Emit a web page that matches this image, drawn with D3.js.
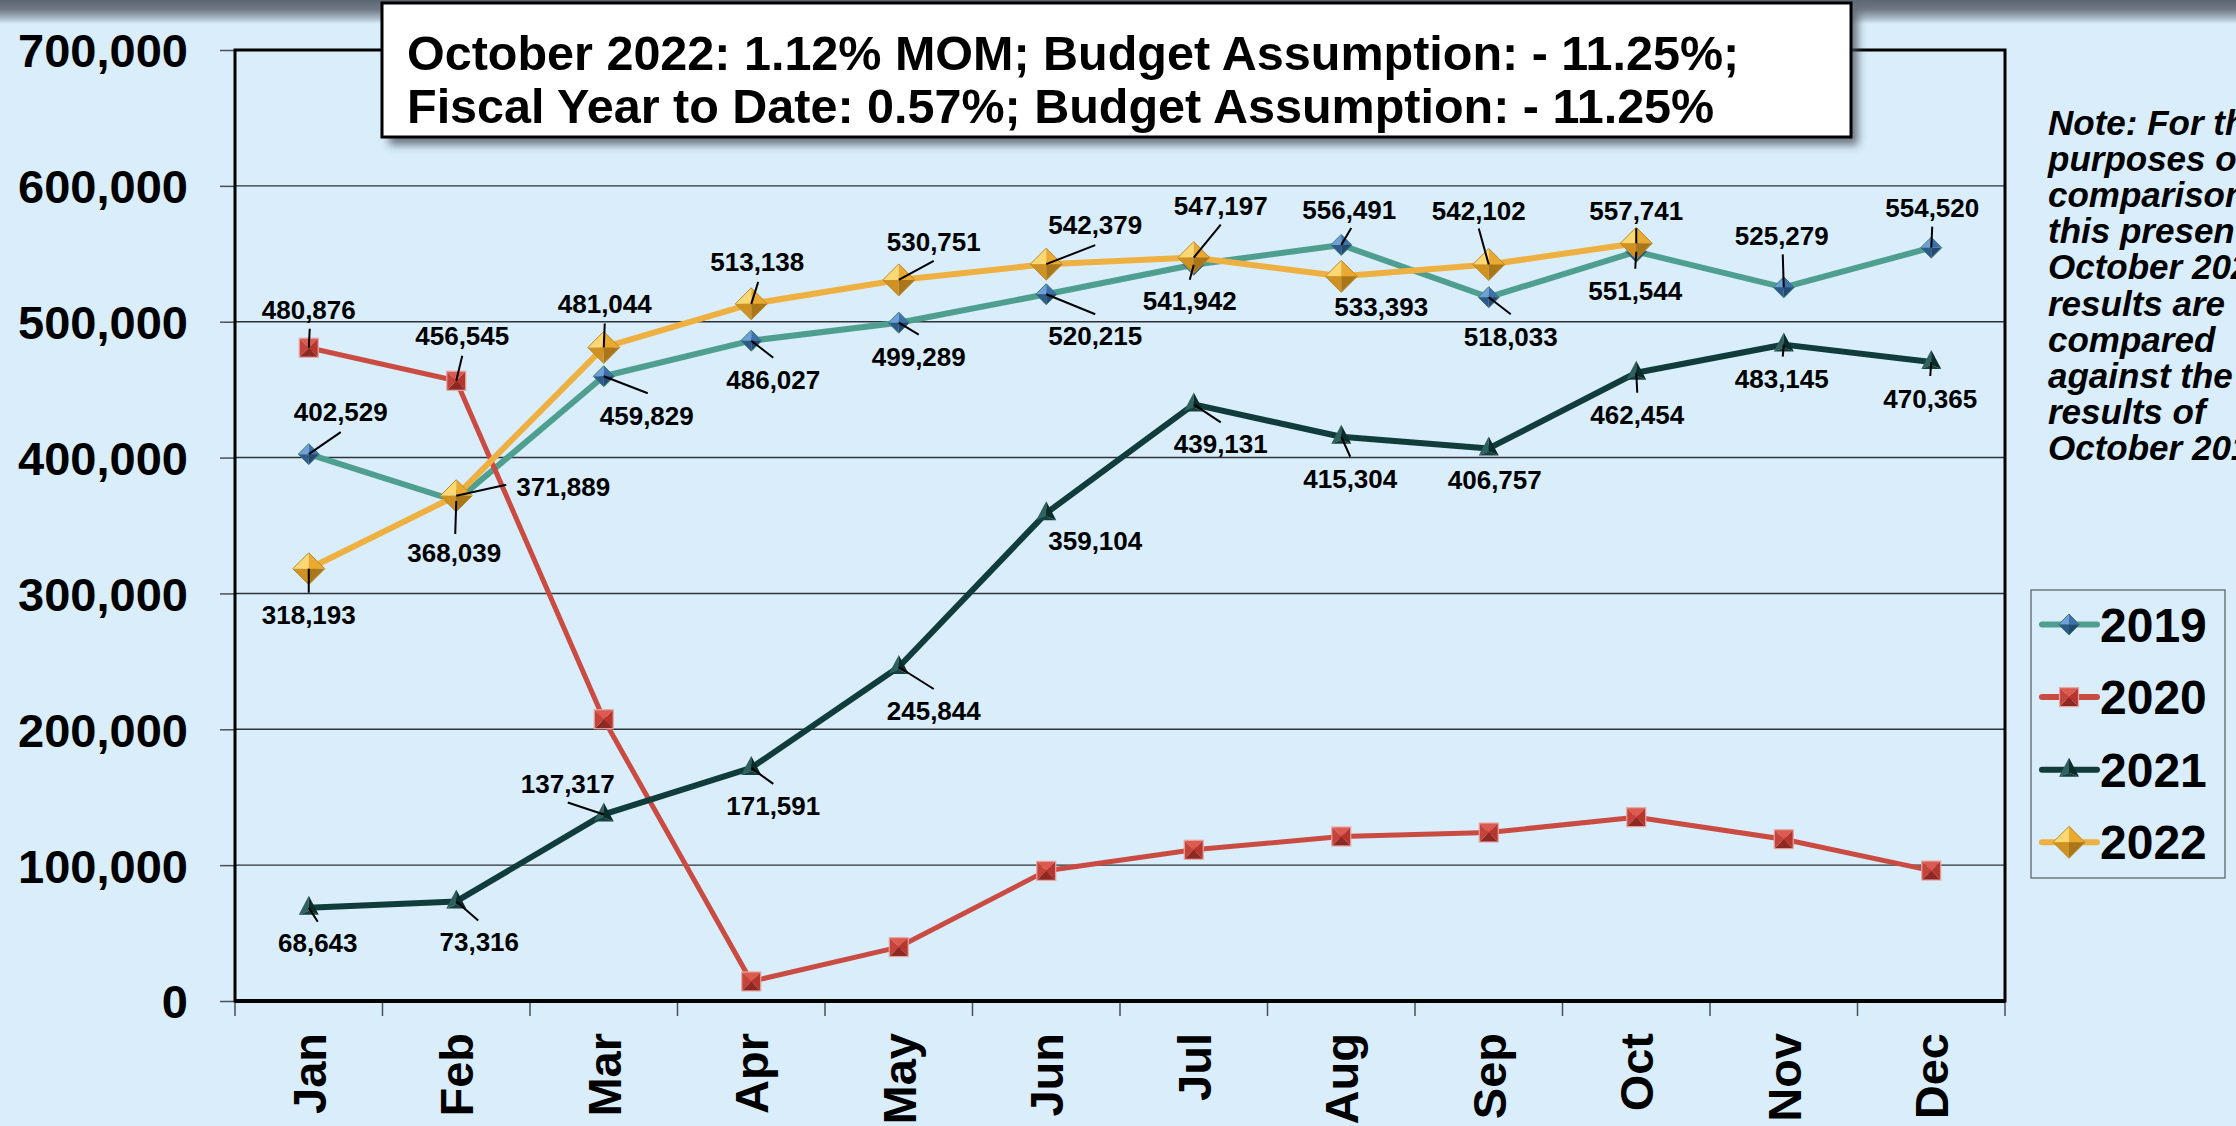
<!DOCTYPE html>
<html>
<head>
<meta charset="utf-8">
<script src="https://cdn.jsdelivr.net/npm/d3@7"></script>
<style>
  html, body { margin: 0; padding: 0; background: #d9edfb; overflow: hidden; }
  svg { display: block; }
  text { font-family: "Liberation Sans", Arial, Helvetica, sans-serif; }
</style>
</head>
<body>
<svg id="chart" width="2236" height="1126"></svg>
<script>
// ---------------- DATA ----------------
const months = ["Jan","Feb","Mar","Apr","May","Jun","Jul","Aug","Sep","Oct","Nov","Dec"];
const years = ["2019","2020","2021","2022"];
const values2019 = [402529, 368039, 459829, 486027, 499289, 520215, 541942, 556491, 518033, 551544, 525279, 554520];
const values2020 = [480876, 456545, 207400, 14400, 39700, 95800, 111300, 121100, 124000, 135300, 119100, 96000];
const values2021 = [68643, 73316, 137317, 171591, 245844, 359104, 439131, 415304, 406757, 462454, 483145, 470365];
const values2022 = [318193, 371889, 481044, 513138, 530751, 542379, 547197, 533393, 542102, 557741];
// which points carry a printed data label
const labeled2019 = [true,true,true,true,true,true,true,true,true,true,true,true];
const labeled2020 = [true,true,false,false,false,false,false,false,false,false,false,false];
const labeled2021 = [true,true,true,true,true,true,true,true,true,true,true,true];
const labeled2022 = [true,true,true,true,true,true,true,true,true,true];
const yTicks = [0, 100000, 200000, 300000, 400000, 500000, 600000, 700000];
const titleLines = [
  "October 2022: 1.12% MOM; Budget Assumption: - 11.25%;",
  "Fiscal Year to Date: 0.57%; Budget Assumption: - 11.25%"
];
const noteLines = ["Note: For the", "purposes of", "comparison,", "this presentation",
  "October 2022", "results are", "compared", "against the", "results of", "October 2019."];

// ---------------- STYLE / LAYOUT ----------------
const W = 2236, H = 1126;
const plot = { left: 235, right: 2005, top: 50, bottom: 1001 };
const lineColors = { "2019": "#4f9f90", "2020": "#c94b42", "2021": "#103c3b", "2022": "#efb042" };
const markerKinds = { "2019": "diamondS", "2020": "square", "2021": "triangle", "2022": "diamondL" };
// label layout: [text dx, text dy (middle), leader end dx, leader end dy] relative to the point
const labelOffsets = {
  "2019": [[32,-42,32,-22],[-2,52,-1,33],[43,39,44,17],[22,39,22,17],[20,34,20,12],[49,41,49,20],
           [-4,36,-4,15],[8,-35,10,-17],[22,39,22,17],[-1,39,-1,17],[-2,-52,-1,-33],[1,-40,1,-21]],
  "2020": [[0,-38,1,-19],[6,-45,6,-25]],
  "2021": [[9,35,9,14],[23,40,22,19],[-36,-31,-36,-12],[22,38,22,16],[35,44,35,22],[49,28,null,null],
           [27,39,27,18],[9,42,9,20],[6,31,null,null],[1,42,1,20],[-2,34,-1,12],[-1,37,-1,14]],
  "2022": [[0,46,0,24],[107,-9,50,-11],[1,-44,1,-24],[6,-42,7,-22],[35,-38,35,-19],[49,-39,49,-19],
           [27,-52,27,-33],[40,30,null,null],[-10,-54,-10,-36],[0,-33,0,-15]]
};

const seriesValues = { "2019": values2019, "2020": values2020, "2021": values2021, "2022": values2022 };
const seriesLabeled = { "2019": labeled2019, "2020": labeled2020, "2021": labeled2021, "2022": labeled2022 };

const svg = d3.select("#chart");
const defs = svg.append("defs");

// background
svg.append("rect").attr("width", W).attr("height", H).attr("fill", "#d9edfb");
const topGrad = defs.append("linearGradient").attr("id", "topband").attr("x1", 0).attr("y1", 0).attr("x2", 0).attr("y2", 1);
topGrad.append("stop").attr("offset", "0%").attr("stop-color", "#5b6672");
topGrad.append("stop").attr("offset", "40%").attr("stop-color", "#6f7a86");
topGrad.append("stop").attr("offset", "75%").attr("stop-color", "#a8b7c4");
topGrad.append("stop").attr("offset", "100%").attr("stop-color", "#d9edfb");
svg.append("rect").attr("x", 0).attr("y", 0).attr("width", W).attr("height", 24).attr("fill", "url(#topband)");

const blur = defs.append("filter").attr("id", "shadow").attr("x", "-5%").attr("y", "-20%").attr("width", "110%").attr("height", "140%");
blur.append("feGaussianBlur").attr("stdDeviation", 4);

// ---------------- SCALES ----------------
const x = d3.scaleBand().domain(months).range([plot.left, plot.right]);
const cx = m => x(m) + x.bandwidth() / 2;
const y = d3.scaleLinear().domain([0, 700000]).range([plot.bottom, plot.top]);

// gridlines
svg.append("g").selectAll("line")
  .data(yTicks.filter(v => v > 0 && v < 700000))
  .join("line")
  .attr("x1", plot.left).attr("x2", plot.right)
  .attr("y1", d => y(d)).attr("y2", d => y(d))
  .attr("stroke", "#2c3238").attr("stroke-width", 1.4);

// y axis
const yAxis = svg.append("g").attr("transform", `translate(${plot.left},0)`)
  .call(d3.axisLeft(y).tickValues(yTicks).tickSize(15).tickPadding(32).tickFormat(d3.format(",")));
yAxis.select(".domain").remove();
yAxis.selectAll(".tick line").attr("stroke", "#4a4f55").attr("stroke-width", 1.5);
yAxis.selectAll(".tick text").attr("font-size", 47).attr("font-weight", "bold").attr("fill", "#000").attr("dy", "0.36em");

// x axis (labels at centres, ticks at band boundaries)
const xAxis = svg.append("g").attr("transform", `translate(0,${plot.bottom})`)
  .call(d3.axisBottom(x).tickSize(0));
xAxis.select(".domain").remove();
xAxis.selectAll(".tick text")
  .attr("transform", "rotate(-90)")
  .attr("x", -32).attr("y", 0).attr("dy", "0.36em")
  .attr("text-anchor", "end")
  .attr("font-size", 47).attr("font-weight", "bold").attr("fill", "#000");
const bounds = months.map(m => x(m)).concat([x.range()[1]]);
svg.append("g").selectAll("line").data(bounds).join("line")
  .attr("x1", d => d).attr("x2", d => d)
  .attr("y1", plot.bottom).attr("y2", plot.bottom + 15)
  .attr("stroke", "#4a4f55").attr("stroke-width", 1.5);

// plot frame
svg.append("rect").attr("x", plot.left).attr("y", plot.top)
  .attr("width", plot.right - plot.left).attr("height", plot.bottom - plot.top)
  .attr("fill", "none").attr("stroke", "#000").attr("stroke-width", 3);
svg.append("line").attr("x1", plot.left).attr("x2", plot.right).attr("y1", plot.bottom).attr("y2", plot.bottom)
  .attr("stroke", "#000").attr("stroke-width", 4);

// ---------------- MARKERS ----------------
function drawMarker(g, kind) {
  if (kind === "diamondS" || kind === "diamondL") {
    const r = kind === "diamondS" ? 10.5 : 16;
    const cols = kind === "diamondS"
      ? ["#6e9fd6", "#3f70ad", "#2e5a8a", "#244a72"]
      : ["#fbd873", "#eaaa2f", "#cf9222", "#a9761a"];
    const facets = [
      `M0,${-r}L${-r},0L0,0Z`, `M0,${-r}L${r},0L0,0Z`,
      `M${-r},0L0,${r}L0,0Z`, `M${r},0L0,${r}L0,0Z`];
    facets.forEach((p, i) => g.append("path").attr("d", p).attr("fill", cols[i]));
    g.append("path").attr("d", `M0,${-r}L${r},0L0,${r}L${-r},0Z`).attr("fill", "none")
      .attr("stroke", kind === "diamondS" ? "#3d7d78" : "#b98a2a").attr("stroke-width", 1);
  } else if (kind === "square") {
    const s = 9.5;
    const cols = ["#dc5a4f", "#b5362f", "#8e2823", "#c4433b"];
    const facets = [
      `M${-s},${-s}L${s},${-s}L0,0Z`, `M${s},${-s}L${s},${s}L0,0Z`,
      `M${s},${s}L${-s},${s}L0,0Z`, `M${-s},${s}L${-s},${-s}L0,0Z`];
    facets.forEach((p, i) => g.append("path").attr("d", p).attr("fill", cols[i]));
    g.append("rect").attr("x", -s).attr("y", -s).attr("width", 2 * s).attr("height", 2 * s)
      .attr("fill", "none").attr("stroke", "#e9a7a3").attr("stroke-width", 1.2);
  } else if (kind === "triangle") {
    const facets = [["M0,-12L-10,7L0,3Z", "#2f625f"], ["M0,-12L10,7L0,3Z", "#0b2c2b"], ["M-10,7L10,7L0,3Z", "#14403e"]];
    facets.forEach(f => g.append("path").attr("d", f[0]).attr("fill", f[1]));
  }
}

// ---------------- LINES ----------------
const line = d3.line().x(d => cx(d.m)).y(d => y(d.v));
years.forEach(yr => {
  const pts = seriesValues[yr].map((v, i) => ({ m: months[i], v }));
  svg.append("path").datum(pts).attr("d", line)
    .attr("fill", "none").attr("stroke", lineColors[yr])
    .attr("stroke-width", yr === "2020" ? 5 : 6).attr("stroke-linejoin", "round");
});
years.forEach(yr => {
  const pts = seriesValues[yr].map((v, i) => ({ m: months[i], v }));
  svg.append("g").selectAll("g").data(pts).join("g")
    .attr("transform", d => `translate(${cx(d.m)},${y(d.v)})`)
    .each(function () { drawMarker(d3.select(this), markerKinds[yr]); });
});

// ---------------- DATA LABELS ----------------
const fmt = d3.format(",");
const labelG = svg.append("g");
years.forEach(yr => {
  seriesValues[yr].forEach((v, i) => {
    if (!seriesLabeled[yr][i]) return;
    const off = labelOffsets[yr][i];
    const px = cx(months[i]), py = y(v);
    if (off[2] !== null) {
      labelG.append("line").attr("x1", px).attr("y1", py)
        .attr("x2", px + off[2]).attr("y2", py + off[3])
        .attr("stroke", "#000").attr("stroke-width", 2);
    }
    labelG.append("text").attr("x", px + off[0]).attr("y", py + off[1]).attr("dy", "0.36em")
      .attr("text-anchor", "middle").attr("font-size", 26).attr("font-weight", "bold")
      .attr("fill", "#000").text(fmt(v));
  });
});

// ---------------- TITLE BOX ----------------
const tb = { x: 382, y: 3, w: 1469, h: 134 };
svg.append("rect").attr("x", tb.x + 7).attr("y", tb.y + 8).attr("width", tb.w).attr("height", tb.h)
  .attr("fill", "#4a5058").attr("opacity", 0.75).attr("filter", "url(#shadow)");
svg.append("rect").attr("x", tb.x).attr("y", tb.y).attr("width", tb.w).attr("height", tb.h)
  .attr("fill", "#fff").attr("stroke", "#000").attr("stroke-width", 3);
svg.append("g").selectAll("text").data(titleLines).join("text")
  .attr("x", 407).attr("y", (d, i) => 70 + i * 53)
  .attr("font-size", 48.5).attr("font-weight", "bold").attr("fill", "#000")
  .text(d => d);

// ---------------- NOTE (runs past the right edge, as in the source) ----------------
svg.append("g").selectAll("text").data(noteLines).join("text")
  .attr("x", 2048).attr("y", (d, i) => 135 + i * 36.1)
  .attr("font-size", 35).attr("font-weight", "bold").attr("font-style", "italic").attr("fill", "#000")
  .text(d => d);

// ---------------- LEGEND ----------------
svg.append("rect").attr("x", 2031).attr("y", 590).attr("width", 194).attr("height", 288)
  .attr("fill", "none").attr("stroke", "#555b62").attr("stroke-width", 1.2);
const leg = svg.append("g").selectAll("g").data(years).join("g")
  .attr("transform", (d, i) => `translate(0,${624.5 + i * 72.6})`);
leg.append("line").attr("x1", 2042).attr("x2", 2097).attr("y1", 0).attr("y2", 0)
  .attr("stroke", d => lineColors[d]).attr("stroke-width", 6).attr("stroke-linecap", "round");
leg.append("g").attr("transform", "translate(2069,0)")
  .each(function (d) { drawMarker(d3.select(this), markerKinds[d]); });
leg.append("text").attr("x", 2100).attr("y", 17)
  .attr("font-size", 48).attr("font-weight", "bold").attr("fill", "#000").text(d => d);
</script>
</body>
</html>
